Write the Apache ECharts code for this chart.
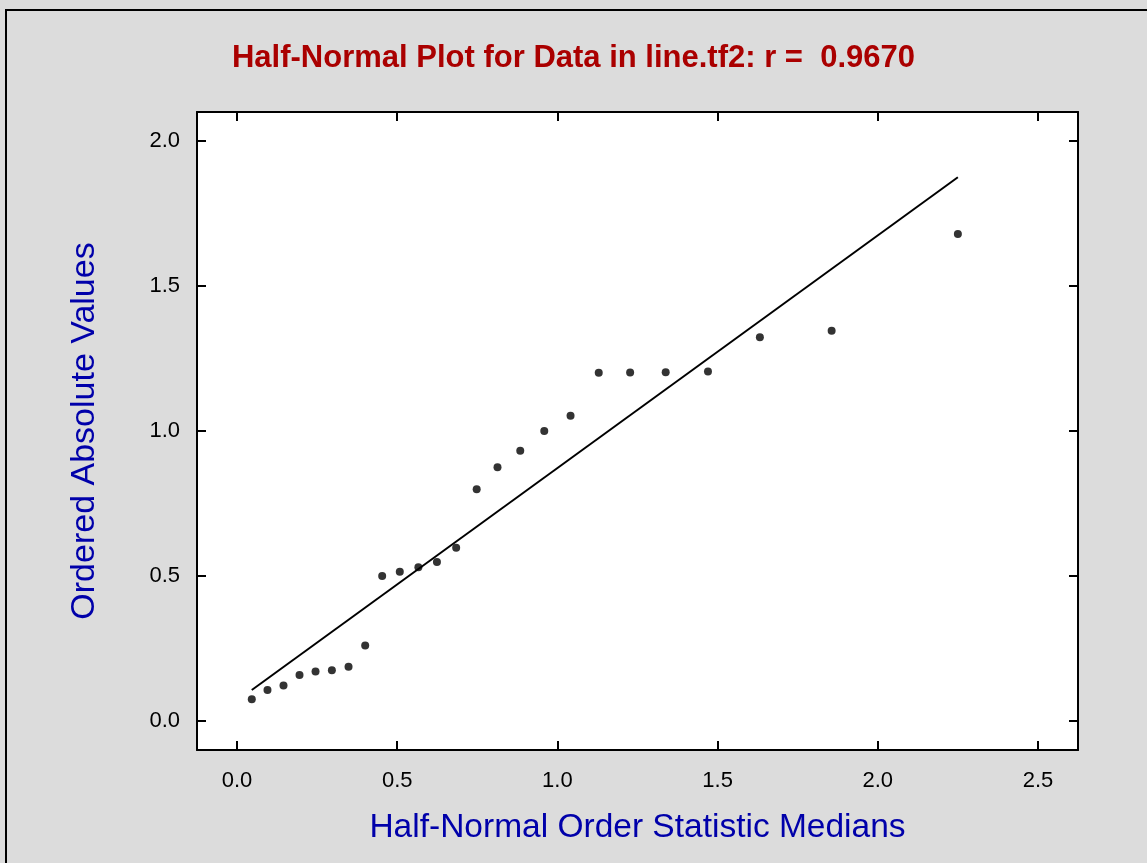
<!DOCTYPE html>
<html>
<head>
<meta charset="utf-8">
<script src="https://cdn.jsdelivr.net/npm/echarts@6/dist/echarts.min.js"></script>
<style>
html,body{margin:0;padding:0;background:#dcdcdc;}
#chart{width:1147px;height:863px;}
</style>
</head>
<body>
<div id="chart"></div>
<script>
// Half-normal order statistic medians (x) and ordered absolute values (y)
var xValues = [0.046, 0.095, 0.145, 0.195, 0.245, 0.296, 0.348, 0.400, 0.453, 0.508, 0.566, 0.624, 0.684, 0.748, 0.813, 0.884, 0.959, 1.041, 1.129, 1.227, 1.338, 1.470, 1.632, 1.856, 2.250];
var yValues = [0.075, 0.107, 0.122, 0.159, 0.171, 0.175, 0.187, 0.260, 0.500, 0.515, 0.530, 0.548, 0.597, 0.799, 0.875, 0.932, 1.000, 1.053, 1.201, 1.202, 1.203, 1.205, 1.323, 1.346, 1.679];
// fitted line end points
var lineX = [0.046, 2.250];
var lineY = [0.107, 1.875];
var xTicks = [0, 0.5, 1.0, 1.5, 2.0, 2.5];
var yTicks = [0, 0.5, 1.0, 1.5, 2.0];
var titleText = 'Half-Normal Plot for Data in line.tf2: r =  0.9670';
var xName = 'Half-Normal Order Statistic Medians';
var yName = 'Ordered Absolute Values';

var points = xValues.map(function (x, i) { return [x, yValues[i]]; });
var linePts = lineX.map(function (x, i) { return [x, lineY[i]]; });

var FONT = '"Liberation Sans", Arial, Helvetica, sans-serif';
var chart = echarts.init(document.getElementById('chart'), null, {renderer: 'canvas'});

function fmt(v) { return Number(v).toFixed(1); }

var xBase = {
  type: 'value', min: -0.125, max: 2.625,
  splitLine: {show: false},
  axisLine: {show: true, onZero: false, lineStyle: {color: '#000', width: 2}},
  axisTick: {show: true, inside: true, length: 9, lineStyle: {color: '#000', width: 2}, customValues: xTicks}
};
var yBase = {
  type: 'value', min: -0.1, max: 2.1,
  splitLine: {show: false},
  axisLine: {show: true, onZero: false, lineStyle: {color: '#000', width: 2}},
  axisTick: {show: true, inside: true, length: 9, lineStyle: {color: '#000', width: 2}, customValues: yTicks}
};

var option = {
  backgroundColor: '#dcdcdc',
  animation: false,
  title: {
    text: titleText, left: 'center', top: 43, padding: 0,
    textStyle: {fontFamily: FONT, fontSize: 31, fontWeight: 'bold', color: '#aa0000'}
  },
  graphic: [{
    type: 'rect', z: -1, silent: true,
    shape: {x: 6, y: 10, width: 1200, height: 900},
    style: {fill: 'none', stroke: '#000', lineWidth: 2}
  }],
  grid: {left: 197, top: 112, right: 69, bottom: 113, show: true, backgroundColor: '#fff', borderWidth: 0},
  xAxis: [
    Object.assign({}, xBase, {
      position: 'bottom',
      name: xName, nameLocation: 'middle', nameGap: 61,
      nameTextStyle: {fontFamily: FONT, fontSize: 33.5, color: '#0000aa'},
      axisLabel: {show: true, customValues: xTicks, formatter: fmt, margin: 20,
        fontFamily: FONT, fontSize: 22, color: '#000'}
    }),
    Object.assign({}, xBase, {position: 'top', axisLabel: {show: false}})
  ],
  yAxis: [
    Object.assign({}, yBase, {
      position: 'left',
      name: yName, nameLocation: 'middle', nameGap: 95,
      nameTextStyle: {fontFamily: FONT, fontSize: 34, color: '#0000aa'},
      axisLabel: {show: true, customValues: yTicks, formatter: function (v) { return fmt(v); }, margin: 17,
        fontFamily: FONT, fontSize: 22, color: '#000', padding: [8, 0, 0, 0]}
    }),
    Object.assign({}, yBase, {position: 'right', axisLabel: {show: false}})
  ],
  series: [
    {
      type: 'line', data: linePts, xAxisIndex: 0, yAxisIndex: 0,
      symbol: 'none', lineStyle: {color: '#000', width: 2}, silent: true
    },
    {
      type: 'scatter', data: points, xAxisIndex: 0, yAxisIndex: 0,
      symbol: 'circle', symbolSize: 8, itemStyle: {color: '#000'}, silent: true
    }
  ]
};
chart.setOption(option);
</script>
</body>
</html>
